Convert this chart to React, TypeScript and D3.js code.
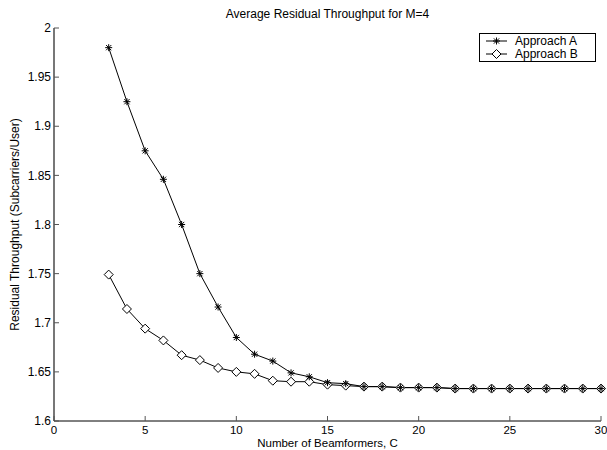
import React from 'react'
import { scaleLinear, line, range } from 'd3'

const beamformers = range(3, 31)
const approachA = [1.980, 1.925, 1.875, 1.846, 1.800, 1.750, 1.716, 1.685, 1.668, 1.661, 1.649, 1.645, 1.639, 1.638,
  1.635, 1.635, 1.634, 1.634, 1.634, 1.633, 1.633, 1.633, 1.633, 1.633, 1.633, 1.633, 1.633, 1.633]
const approachB = [1.749, 1.714, 1.694, 1.682, 1.667, 1.662, 1.654, 1.650, 1.648, 1.641, 1.640, 1.640, 1.637, 1.636,
  1.635, 1.635, 1.634, 1.634, 1.634, 1.633, 1.633, 1.633, 1.633, 1.633, 1.633, 1.633, 1.633, 1.633]
const xTicks = [0, 5, 10, 15, 20, 25, 30]
const yTicks = [1.6, 1.65, 1.7, 1.75, 1.8, 1.85, 1.9, 1.95, 2]
const seriesNames = ['Approach A', 'Approach B']

const width = 607
const height = 450
const margin = { top: 28, right: 6, bottom: 29, left: 54 }
const font = 'Liberation Sans, Arial, sans-serif'
const fs = 12

const x = scaleLinear().domain([0, 30]).range([margin.left, width - margin.right])
const y = scaleLinear().domain([1.6, 2]).range([height - margin.bottom, margin.top])

const Star = ({ cx, cy }: { cx: number, cy: number }) => {
  const r = 3.5
  const d = r * 0.75
  return (
    <g stroke="#000" strokeWidth={1}>
      <line x1={cx - r} x2={cx + r} y1={cy} y2={cy} />
      <line x1={cx} x2={cx} y1={cy - r} y2={cy + r} />
      <line x1={cx - d} x2={cx + d} y1={cy - d} y2={cy + d} />
      <line x1={cx - d} x2={cx + d} y1={cy + d} y2={cy - d} />
    </g>
  )
}

const Diamond = ({ cx, cy }: { cx: number, cy: number }) => {
  const r = 4.5
  return <path d={`M${cx},${cy - r}L${cx + r},${cy}L${cx},${cy + r}L${cx - r},${cy}Z`} fill="#fff" stroke="#000" strokeWidth={1} />
}

const App = () => {
  const pathA = line<number>().x((_, i) => x(beamformers[i])).y(d => y(d))(approachA) || ''
  const pathB = line<number>().x((_, i) => x(beamformers[i])).y(d => y(d))(approachB) || ''
  const x0 = margin.left
  const yBottom = height - margin.bottom

  return (
    <svg width={width} height={height} style={{ position: 'absolute', left: 0, top: 0, background: '#fff' }} fontFamily={font}>
      <rect width={width} height={height} fill="#fff" />

      {/* axes */}
      <line x1={x0} x2={x0} y1={margin.top} y2={yBottom} stroke="#777" strokeWidth={2} />
      <line x1={x0} x2={width - margin.right} y1={yBottom} y2={yBottom} stroke="#000" strokeWidth={1} />
      {yTicks.map(t => (
        <g key={t}>
          <line x1={x0} x2={x0 + 5} y1={y(t)} y2={y(t)} stroke="#555" />
          <text x={x0 - 3} y={y(t)} dy="0.35em" textAnchor="end" fontSize={fs}>{String(t)}</text>
        </g>
      ))}
      {xTicks.map(t => (
        <g key={t}>
          <line x1={x(t)} x2={x(t)} y1={yBottom} y2={yBottom - 5} stroke="#555" />
          <text x={x(t)} y={yBottom + 8.5} dy="0.35em" textAnchor="middle" fontSize={11.5}>{t}</text>
        </g>
      ))}

      <text x={(x(0) + x(30)) / 2} y={18} textAnchor="middle" fontSize={fs}>Average Residual Throughput for M=4</text>
      <text x={(x(0) + x(30)) / 2} y={447} textAnchor="middle" fontSize={11.5}>Number of Beamformers, C</text>
      <text transform={`translate(19,${(y(1.6) + y(2)) / 2}) rotate(-90)`} textAnchor="middle" fontSize={fs}>Residual Throughput (Subcarriers/User)</text>

      {/* series */}
      <path d={pathA} fill="none" stroke="#000" strokeWidth={1} />
      <path d={pathB} fill="none" stroke="#000" strokeWidth={1} />
      {approachB.map((v, i) => <Diamond key={'b' + i} cx={x(beamformers[i])} cy={y(v)} />)}
      {approachA.map((v, i) => <Star key={'a' + i} cx={x(beamformers[i])} cy={y(v)} />)}

      {/* legend */}
      <rect x={479.5} y={33.5} width={116} height={28} fill="#fff" stroke="#000" strokeWidth={1} />
      {seriesNames.map((name, i) => {
        const ly = 41 + i * 13
        return (
          <g key={name}>
            <line x1={486} x2={507} y1={ly} y2={ly} stroke="#000" />
            {i === 0 ? <Star cx={496.5} cy={ly} /> : <Diamond cx={496.5} cy={ly} />}
            <text x={515} y={ly} dy="0.35em" fontSize={fs}>{name}</text>
          </g>
        )
      })}
    </svg>
  )
}

export default App
